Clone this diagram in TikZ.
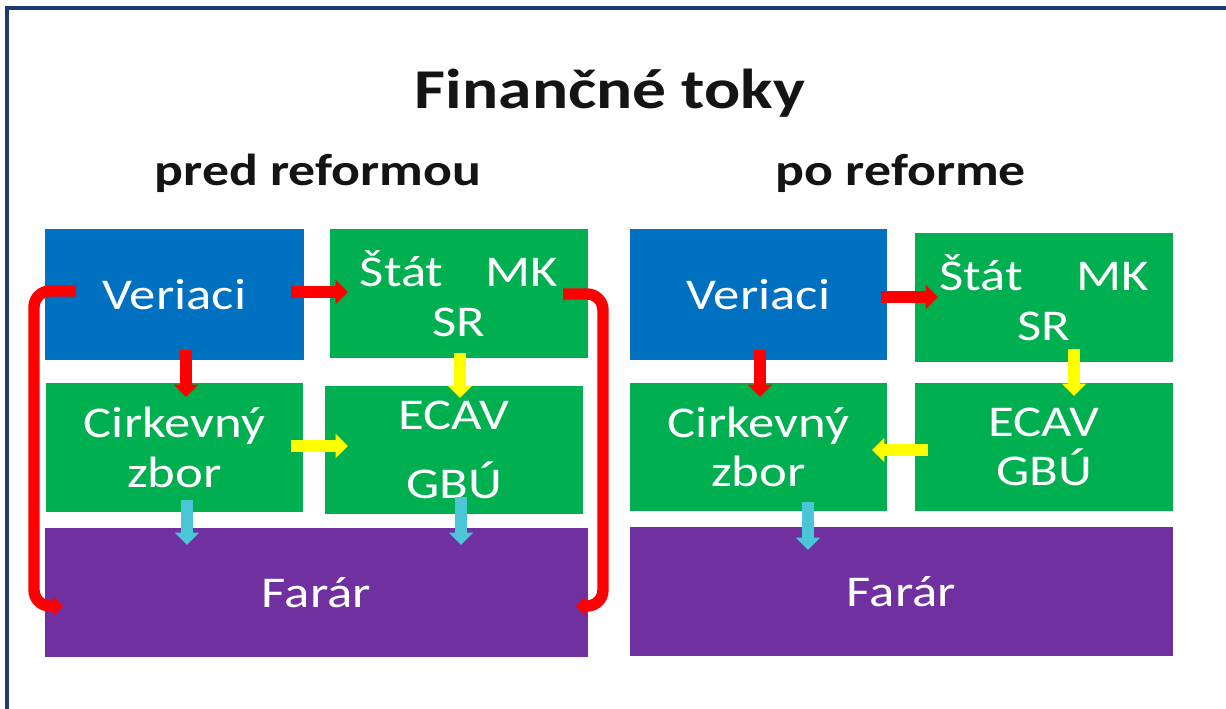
\documentclass[tikz,border=0pt]{standalone}
\usepackage{fontspec}
\setmainfont[FakeStretch=1.2]{Carlito}
\usetikzlibrary{arrows.meta,calc}
\definecolor{cblue}{HTML}{0070C0}
\definecolor{cgreen}{HTML}{00B050}
\definecolor{cpurple}{HTML}{7030A0}
\definecolor{cred}{HTML}{FF0000}
\definecolor{cyellow}{HTML}{FFFF00}
\definecolor{ccyan}{HTML}{4BC6D6}
\definecolor{cnavy}{HTML}{1F3A6E}
\tikzset{
  box/.style={anchor=north west, inner sep=0pt, outer sep=0pt, draw=none, text=white, align=center,
    font=\fontsize{25}{28.3}\selectfont},
  heading/.style={anchor=base, font=\bfseries\fontsize{25.5}{30}\selectfont, text=black!92},
  farr/.style={line width=6.3pt, -{Triangle[width=13.5pt,length=7pt]}},
  redarr/.style={farr, draw=cred},
  yelarr/.style={farr, draw=cyellow},
  cyanarr/.style={farr, draw=ccyan},
  looparr/.style={draw=cred, line width=6.5pt, rounded corners=0.32cm, -{Triangle[width=11pt,length=5.5pt]}}
}
\begin{document}
\begin{tikzpicture}[x=0.02cm,y=-0.02cm]
\useasboundingbox (0,0) rectangle (1226,708);
\fill[white] (0,0) rectangle (1226,708);
\draw[cnavy, line width=1.8pt] (7,720) -- (7,8) -- (1240,8);

\node[anchor=base, font=\bfseries\fontsize{32}{36}\selectfont, text=black!92] (title) at (610,108) {Finančné toky};
\node[heading] (hl) at (318,185) {pred reformou};
\node[heading] (hr) at (901,185) {po reforme};

% left panel
\node[box, fill=cblue, minimum width=5.18cm, minimum height=2.62cm] (lver) at (45,229) {Veriaci};
\node[box, fill=cgreen, minimum width=5.16cm, minimum height=2.58cm] (lsta) at (330,229) {Štát\hspace{0.84cm}MK\\SR};
\node[box, fill=cgreen, minimum width=5.14cm, minimum height=2.58cm] (lcir) at (46,383) {Cirkevný\\zbor};
\node[box, fill=cgreen, minimum width=5.16cm, minimum height=2.56cm] (lecav) at (325,386) {ECAV\\[11.4pt]GBÚ};
\node[box, fill=cpurple, minimum width=10.86cm, minimum height=2.58cm] (lfar) at (45,528) {Farár};

% right panel
\node[box, fill=cblue, minimum width=5.14cm, minimum height=2.62cm] (rver) at (630,229) {Veriaci};
\node[box, fill=cgreen, minimum width=5.16cm, minimum height=2.58cm] (rsta) at (915,233) {Štát\hspace{1.06cm}MK\\SR};
\node[box, fill=cgreen, minimum width=5.14cm, minimum height=2.56cm] (rcir) at (630,383) {Cirkevný\\zbor};
\node[box, fill=cgreen, minimum width=5.16cm, minimum height=2.56cm] (recav) at (915,383) {ECAV\\GBÚ};
\node[box, fill=cpurple, minimum width=10.86cm, minimum height=2.58cm] (rfar) at (630,527) {Farár};

% left arrows
\draw[redarr] ([shift={(246,63)}]lver.north west) -- ([shift={(18,63)}]lsta.north west);
\draw[redarr] ([shift={(141,121)}]lver.north west) -- ([shift={(140,14)}]lcir.north west);
\draw[looparr] ([shift={(31,62)}]lver.north west) -- ([shift={(-11,62)}]lver.north west)
   -- ([shift={(-11,78)}]lfar.north west) -- ([shift={(18,78)}]lfar.north west);
\draw[looparr] ([shift={(233,65)}]lsta.north west) -- ([shift={(273,65)}]lsta.north west)
   -- ([shift={(558,78)}]lfar.north west) -- ([shift={(531,78)}]lfar.north west);
\draw[yelarr] ([shift={(130,124)}]lsta.north west) -- ([shift={(135,12)}]lecav.north west);
\draw[yelarr] ([shift={(245,63)}]lcir.north west) -- ([shift={(23,60)}]lecav.north west);
\draw[cyanarr] ([shift={(141,117)}]lcir.north west) -- ([shift={(142,17)}]lfar.north west);
\draw[cyanarr] ([shift={(136,111)}]lecav.north west) -- ([shift={(416,17)}]lfar.north west);

% right arrows
\draw[redarr] ([shift={(251,68)}]rver.north west) -- ([shift={(23,64)}]rsta.north west);
\draw[redarr] ([shift={(130,121)}]rver.north west) -- ([shift={(130,14)}]rcir.north west);
\draw[yelarr] ([shift={(159,116)}]rsta.north west) -- ([shift={(159,13)}]recav.north west);
\draw[yelarr] ([shift={(13,67)}]recav.north west) -- ([shift={(242,67)}]rcir.north west);
\draw[cyanarr] ([shift={(178,119)}]rcir.north west) -- ([shift={(178,23)}]rfar.north west);
\end{tikzpicture}
\end{document}
